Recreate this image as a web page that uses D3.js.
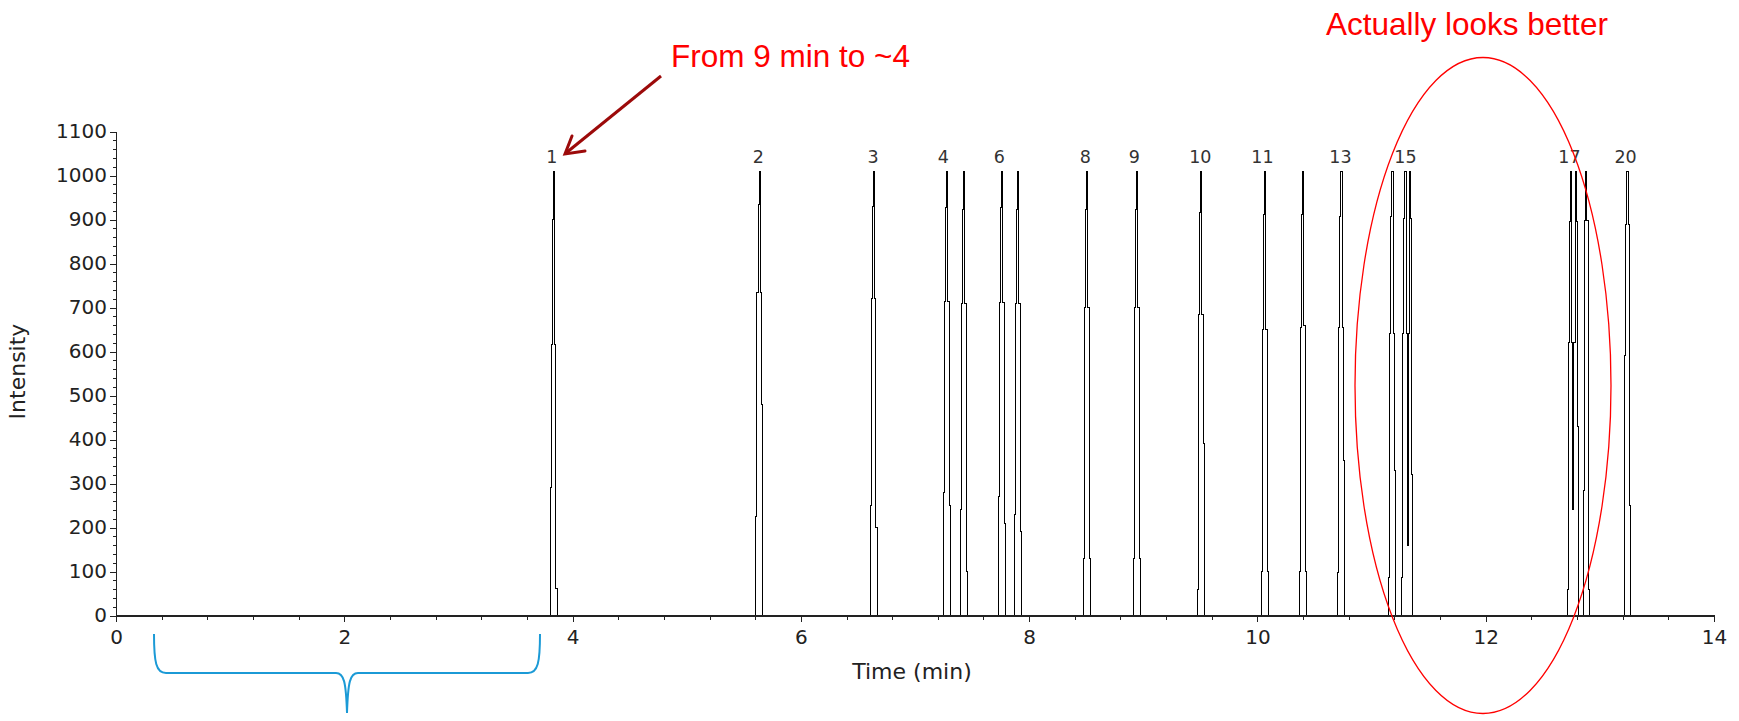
<!DOCTYPE html>
<html>
<head>
<meta charset="utf-8">
<title>Chromatogram - Intensity vs Time</title>
<script src="https://d3js.org/d3.v7.min.js"></script>
<style>
  body { margin: 0; background: #fff; }
  svg { display: block; background: #fff; }
  .tick text { font-family: "DejaVu Sans", sans-serif; font-size: 20px; fill: #222; }
  .peak-label { font-family: "DejaVu Sans", sans-serif; font-size: 17.5px; fill: #333; }
  .axis-title { font-family: "DejaVu Sans", sans-serif; font-size: 22px; fill: #222; }
  .note { font-family: "Liberation Sans", Arial, sans-serif; font-size: 31.5px; fill: #ff0000; }
</style>
</head>
<body>
<svg width="1739" height="721"></svg>

<script>
// --- data ---
// time between two samples of the detector (min)
const sampleStep = 0.01;

// time (min) of the first non-zero sample of each peak
const peakStarts = [3.804, 5.605, 6.608, 7.248, 7.397, 7.730, 7.870, 8.475, 8.913,
                    9.474, 10.035, 10.368, 10.701, 11.148, 11.262, 12.713, 12.857, 13.217];

// intensity of each sample in the peak (15/16 and 17/18 are co-eluting pairs)
const peakIntensities = [
  [290, 615, 900, 1010, 615, 62],
  [225, 734, 934, 1010, 734, 480],
  [250, 720, 930, 1010, 720, 200],
  [280, 714, 927, 1010, 714, 250],
  [240, 709, 922, 1010, 709, 100],
  [270, 712, 927, 1010, 712, 210],
  [230, 709, 922, 1010, 709, 190],
  [130, 700, 922, 1010, 700, 130],
  [130, 700, 922, 1010, 700, 130],
  [60, 684, 915, 1010, 684, 390],
  [100, 650, 911, 1010, 650, 100],
  [100, 655, 911, 1010, 660, 100],
  [97, 655, 907, 1010, 655, 352],
  [87, 640, 906, 1010, 640, 330],
  [87, 640, 902, 1010, 640, 160, 640, 1010, 902, 320],
  [60, 620, 895, 1010, 620, 240, 620, 1010, 895, 430],
  [285, 898, 1010, 898, 60],
  [590, 888, 1010, 888, 251]
];

// peak numbers printed above the trace
const labelNames = ["1", "2", "3", "4", "6", "8", "9", "10", "11", "13", "15", "17", "20"];
const labelTimes = [3.818, 5.627, 6.633, 7.248, 7.739, 8.493, 8.922, 9.500, 10.044, 10.727, 11.297, 12.734, 13.225];

const xTicks = [0, 2, 4, 6, 8, 10, 12, 14];
const yTicks = [0, 100, 200, 300, 400, 500, 600, 700, 800, 900, 1000, 1100];

// --- chart ---
const svg = d3.select('svg');

const x = d3.scaleLinear().domain([0, 14]).range([116, 1714]);
const y = d3.scaleLinear().domain([0, 1100]).range([615.5, 131.5]);

// build the trace as time/intensity points
let trace = [[0, 0]];
peakStarts.forEach((t0, i) => {
  peakIntensities[i].forEach((v, j) => trace.push([t0 + j * sampleStep, v]));
  trace.push([t0 + peakIntensities[i].length * sampleStep, 0]);
});
trace.push([14, 0]);

const line = d3.line()
  .x(d => x(d[0]))
  .y(d => y(d[1]))
  .curve(d3.curveStepAfter);

svg.append('path')
  .datum(trace)
  .attr('d', line)
  .attr('fill', 'none')
  .attr('stroke', '#000')
  .attr('stroke-width', 1)
  .attr('shape-rendering', 'crispEdges');

// minor ticks
svg.append('g')
  .attr('transform', 'translate(116,0)')
  .style('color', '#222')
  .call(d3.axisLeft(y).tickValues(d3.range(0, 1101, 20)).tickSize(3).tickFormat(''))
  .call(g => g.select('.domain').remove());

svg.append('g')
  .attr('transform', 'translate(0,615.5)')
  .style('color', '#222')
  .call(d3.axisBottom(x).tickValues(d3.range(0, 14.01, 0.4)).tickSize(4).tickFormat(''))
  .call(g => g.select('.domain').remove());

// major axes
svg.append('g')
  .attr('transform', 'translate(116,0)')
  .style('color', '#222')
  .call(d3.axisLeft(y).tickValues(yTicks).tickFormat(d3.format('d'))
    .tickSize(6).tickSizeOuter(0).tickPadding(3));

svg.append('g')
  .attr('transform', 'translate(0,615.5)')
  .style('color', '#222')
  .call(d3.axisBottom(x).tickValues(xTicks).tickFormat(d3.format('d'))
    .tickSize(6).tickSizeOuter(0).tickPadding(8));

svg.selectAll('.domain, .tick line').attr('shape-rendering', 'crispEdges');
svg.selectAll('.domain').attr('stroke-width', 1.4);

// peak numbers
svg.append('g')
  .selectAll('text')
  .data(labelNames)
  .join('text')
    .attr('class', 'peak-label')
    .attr('x', (d, i) => x(labelTimes[i]))
    .attr('y', 163)
    .attr('text-anchor', 'middle')
    .text(d => d);

// axis titles
svg.append('text')
  .attr('class', 'axis-title')
  .attr('x', 912)
  .attr('y', 679)
  .attr('text-anchor', 'middle')
  .text('Time (min)');

svg.append('text')
  .attr('class', 'axis-title')
  .attr('transform', 'translate(25,371.5) rotate(-90)')
  .attr('text-anchor', 'middle')
  .text('Intensity');

// annotations
svg.append('text')
  .attr('class', 'note')
  .attr('x', 671)
  .attr('y', 66.5)
  .text('From 9 min to ~4');

svg.append('line')
  .attr('x1', 661).attr('y1', 76)
  .attr('x2', 566).attr('y2', 153)
  .attr('stroke', '#9c0a0a')
  .attr('stroke-width', 3);

svg.append('path')
  .attr('d', 'M572,136 L565,154 L585,151')
  .attr('fill', 'none')
  .attr('stroke', '#9c0a0a')
  .attr('stroke-width', 3)
  .attr('stroke-linecap', 'round')
  .attr('stroke-linejoin', 'miter');

svg.append('text')
  .attr('class', 'note')
  .attr('x', 1326)
  .attr('y', 35)
  .text('Actually looks better');

svg.append('ellipse')
  .attr('cx', 1483).attr('cy', 385.5)
  .attr('rx', 128).attr('ry', 328)
  .attr('fill', 'none')
  .attr('stroke', '#ff0000')
  .attr('stroke-width', 1.3);

// blue brace under the empty first minutes
svg.append('path')
  .attr('d', 'M154,634 C154,662 156,673 166,673 L336,673 C344,673 346,682 347,713 C348,682 350,673 358,673 L528,673 C538,673 540,662 540,634')
  .attr('fill', 'none')
  .attr('stroke', '#1b9ad6')
  .attr('stroke-width', 2);
</script>
</body>
</html>
